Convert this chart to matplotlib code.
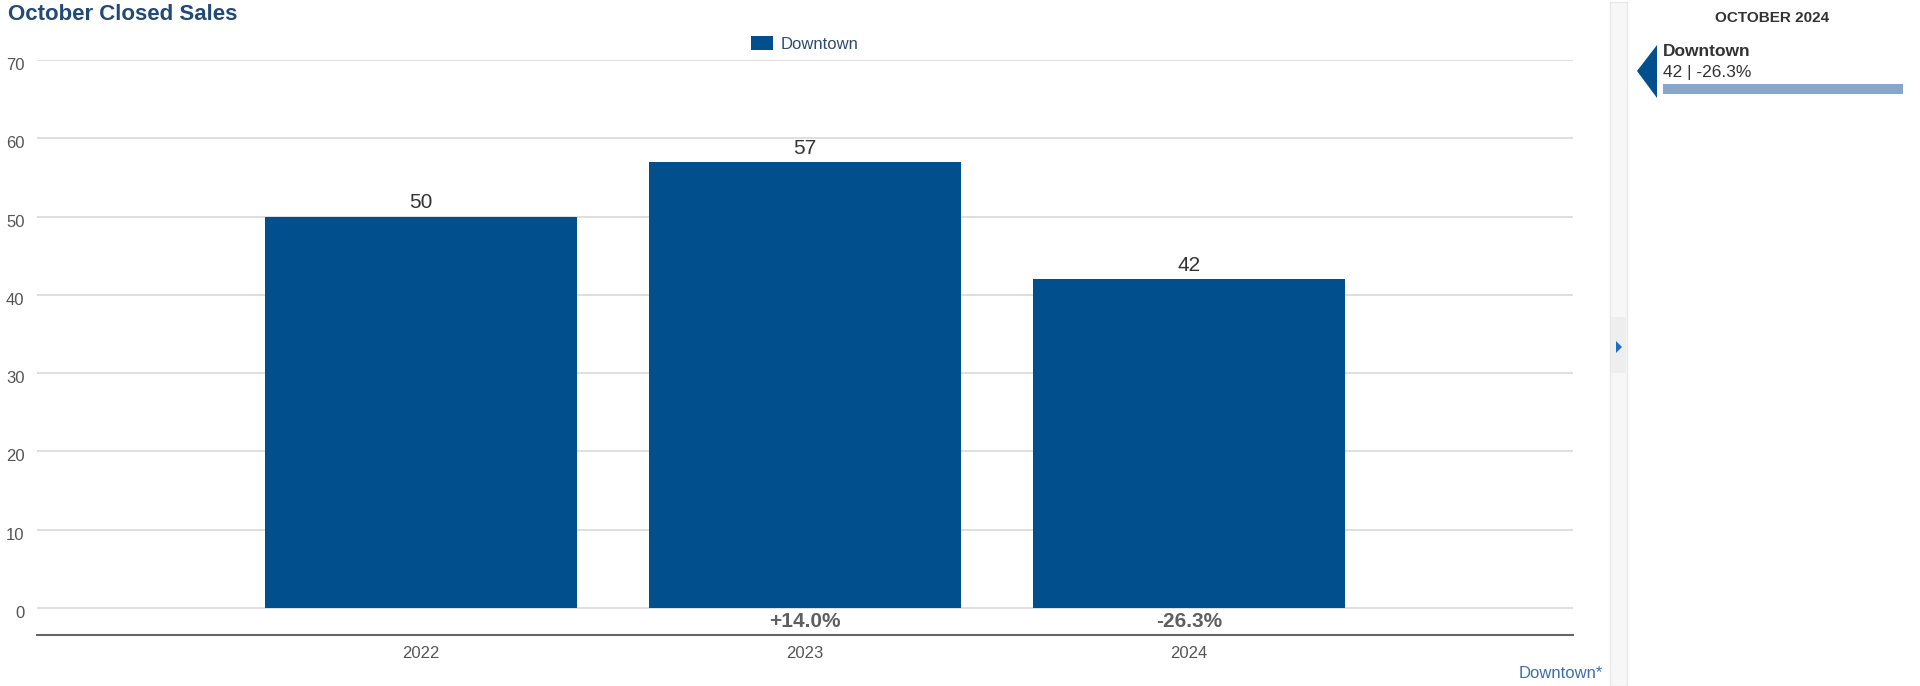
import matplotlib.pyplot as plt
from matplotlib.patches import Rectangle, Polygon
from matplotlib.transforms import ScaledTranslation

plt.rcParams['font.family'] = ['Liberation Sans', 'DejaVu Sans']

# data
years = ['2022', '2023', '2024']
sales = [50, 57, 42]
area = 'Downtown'
month_label = 'OCTOBER 2024'
title = 'October Closed Sales'

bar_color = '#014f8c'
W, H = 1920, 686

# percent change vs previous year
changes = [None] + [(sales[i] - sales[i - 1]) / sales[i - 1] * 100 for i in range(1, len(sales))]

fig = plt.figure(figsize=(W / 100, H / 100), dpi=100)
# axes in pixel coords: x 37..1573, y 60..635 (from top)
ax = fig.add_axes([37 / W, 1 - 635 / H, (1573 - 37) / W, (635 - 60) / H])

x = list(range(len(years)))
ax.bar(x, sales, width=0.81, color=bar_color, zorder=2, label=area)
ax.set_xlim(-1, 3)
ax.set_ylim(-3.45, 70)

ax.set_yticks(range(0, 71, 10))
ax.yaxis.grid(True, color='#d9d9d9', linewidth=1.2, zorder=0)
ax.set_axisbelow(True)
for s in ['top', 'right', 'left']:
    ax.spines[s].set_visible(False)
ax.spines['bottom'].set_color('#666666')
ax.spines['bottom'].set_linewidth(1.5)

ax.set_xticks(x)
ax.set_xticklabels(years)
ax.tick_params(axis='x', length=0, pad=8, labelsize=12, labelcolor='#555555')
ax.tick_params(axis='y', length=0, pad=9, labelsize=12, labelcolor='#555555')
for lab in ax.get_yticklabels():
    lab.set_transform(lab.get_transform() + ScaledTranslation(0, -4 / 100, fig.dpi_scale_trans))

# value labels
for xi, v in zip(x, sales):
    ax.annotate(str(v), (xi, v), xytext=(0, 3), textcoords='offset points',
                ha='center', va='bottom', fontsize=15, color='#333333')

# change labels
for xi, c in zip(x, changes):
    if c is None:
        continue
    ax.text(xi, -1.75, f'{c:+.1f}%', ha='center', va='center', fontsize=15,
            fontweight='bold', color='#5f5f5f')

# legend
leg = ax.legend(loc='lower center', bbox_to_anchor=(0.5, 1.0), frameon=False,
                handlelength=1.3, handleheight=1.0, handletextpad=0.5,
                fontsize=12, borderaxespad=0.1)
for t in leg.get_texts():
    t.set_color('#2f4b6e')

# title
fig.text(8 / W, 1 - 15 / H, title, ha='left', va='center', fontsize=16,
         fontweight='bold', color='#234a74')

# bottom-right series note
fig.text(1603 / W, 1 - 673 / H, area + '*', ha='right', va='center',
         fontsize=12, color='#3d6ea8')

# side strip (scroll bar look)
fig.patches.append(Rectangle((1610 / W, 0), 17 / W, 1 - 2 / H, transform=fig.transFigure,
                             facecolor='#f7f7f7', edgecolor='#e8e8e8', linewidth=1))
fig.patches.append(Rectangle((1611 / W, 1 - 373 / H), 15 / W, 56 / H, transform=fig.transFigure,
                             facecolor='#eeeeee', edgecolor='none'))
fig.patches.append(Polygon([(1616 / W, 1 - 341 / H), (1622 / W, 1 - 347 / H), (1616 / W, 1 - 353 / H)],
                           closed=True, transform=fig.transFigure, facecolor='#1a6fc4', edgecolor='none'))

# right panel
fig.text(1772 / W, 1 - 18 / H, month_label, ha='center', va='center', fontsize=11,
         fontweight='bold', color='#333333')
fig.patches.append(Polygon([(1657 / W, 1 - 45 / H), (1637 / W, 1 - 71 / H), (1657 / W, 1 - 98 / H)],
                           closed=True, transform=fig.transFigure, facecolor=bar_color, edgecolor='none'))
fig.text(1663 / W, 1 - 52 / H, area, ha='left', va='center', fontsize=12.5,
         fontweight='bold', color='#333333')
fig.text(1663 / W, 1 - 72 / H, f'{sales[-1]} | {changes[-1]:.1f}%', ha='left', va='center',
         fontsize=12.5, color='#333333')
fig.patches.append(Rectangle((1663 / W, 1 - 94 / H), 240 / W, 10 / H, transform=fig.transFigure,
                             facecolor='#87a7c8', edgecolor='none'))

fig.savefig('out.png', dpi=100)
